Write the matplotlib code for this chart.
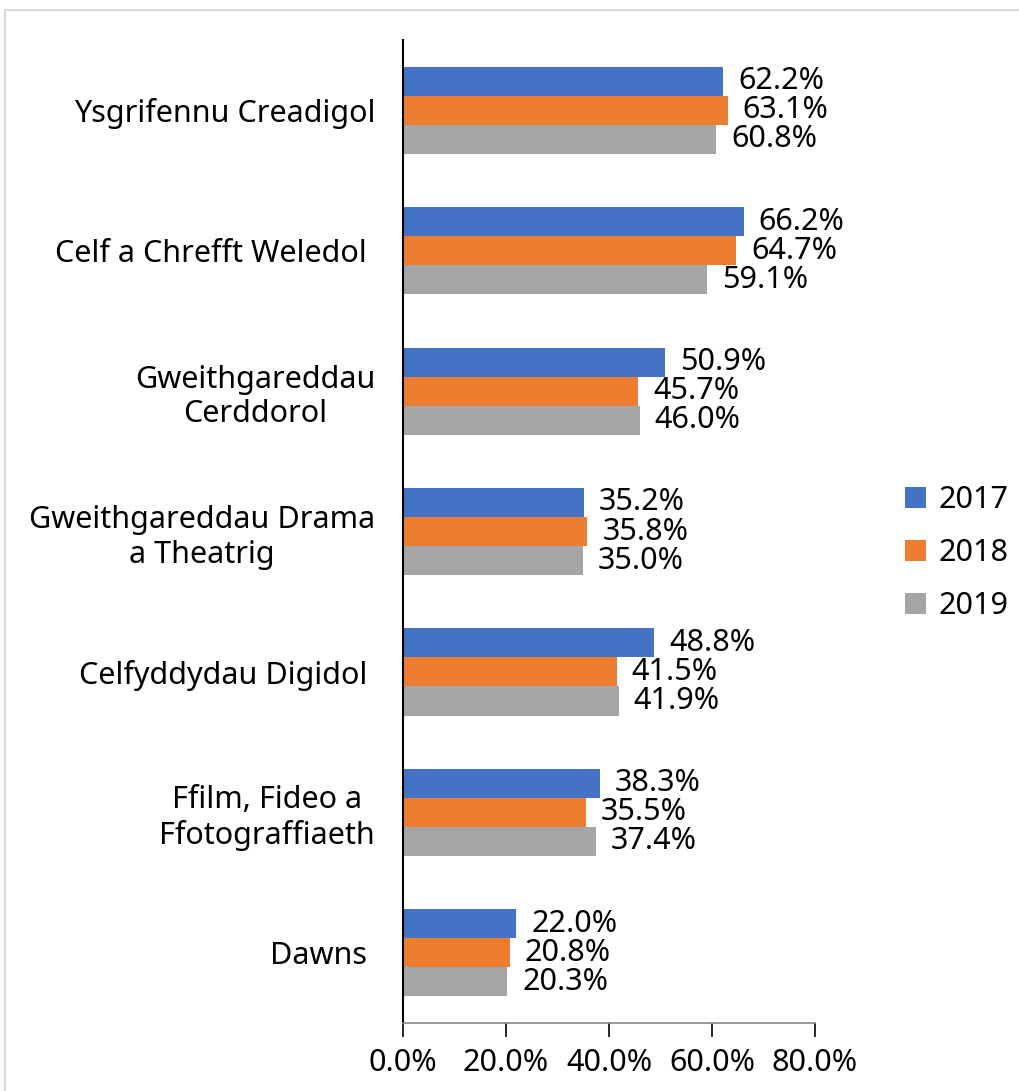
import matplotlib.pyplot as plt
import numpy as np

categories = ['Ysgrifennu Creadigol', 'Celf a Chrefft Weledol ', 'Gweithgareddau\nCerddorol',
              'Gweithgareddau Drama\na Theatrig', 'Celfyddydau Digidol ',
              'Ffilm, Fideo a\nFfotograffiaeth', 'Dawns ']
years = ['2017', '2018', '2019']
v2017 = [62.2, 66.2, 50.9, 35.2, 48.8, 38.3, 22.0]
v2018 = [63.1, 64.7, 45.7, 35.8, 41.5, 35.5, 20.8]
v2019 = [60.8, 59.1, 46.0, 35.0, 41.9, 37.4, 20.3]
colors = ['#4472C4', '#ED7D31', '#A5A5A5']

plt.rcParams['font.family'] = ['Noto Sans', 'DejaVu Sans']
fig = plt.figure(figsize=(10.2, 10.91), dpi=100)
ax = fig.add_axes([0.395, 0.0623, 0.404, 0.901])

y = np.arange(len(categories))[::-1]
h = 0.207
for i, (vals, yr) in enumerate(zip([v2017, v2018, v2019], years)):
    ypos = y + h - i * h
    ax.barh(ypos, vals, height=h, color=colors[i], label=yr)
    for yy, v in zip(ypos, vals):
        ax.text(v + 2.9, yy, f'{v:.1f}%', va='center', ha='left', fontsize=22)

ax.set_xlim(0, 80)
ax.set_ylim(-0.5, len(categories) - 0.5)
ax.set_xticks([0, 20, 40, 60, 80])
ax.set_xticklabels(['0.0%', '20.0%', '40.0%', '60.0%', '80.0%'], fontsize=22)
ax.set_yticks(y)
ax.set_yticklabels(categories, fontsize=22, multialignment='center')
ax.tick_params(axis='y', length=0, pad=20)
ax.tick_params(axis='x', length=10, width=1.2, direction='out', pad=8)
for s in ['top', 'right']:
    ax.spines[s].set_visible(False)
ax.spines['left'].set_linewidth(1.5)
ax.spines['bottom'].set_color('#888888')
ax.spines['bottom'].set_linewidth(1.2)

fig.legend(loc='center left', bbox_to_anchor=(0.86, 0.493), frameon=False,
           fontsize=22, handlelength=0.7, handleheight=0.7, handletextpad=0.4,
           labelspacing=0.75)

fig.patches.append(plt.Rectangle((0.005, -0.01), 1.0, 1.0 - 0.0092 + 0.01,
                                 transform=fig.transFigure, fill=False,
                                 edgecolor='#D9D9D9', linewidth=1.5))
fig.savefig('out.png', dpi=100)
